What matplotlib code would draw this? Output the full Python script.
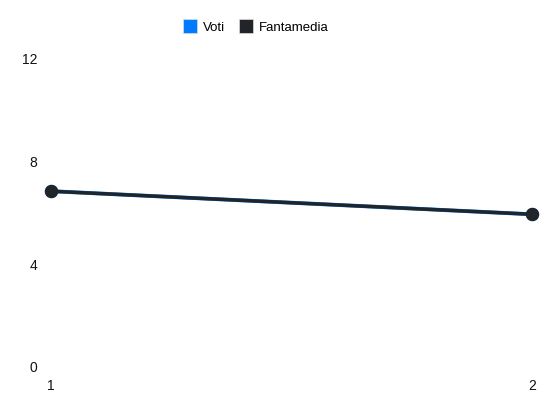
import matplotlib
matplotlib.use("Agg")
import matplotlib.pyplot as plt
from matplotlib.lines import Line2D

x_labels = ["1", "2"]
voti = [6.85, 5.95]
fantamedia = [6.85, 5.95]
y_ticks = [0, 4, 8, 12]

plt.rcParams['font.family'] = ['Liberation Sans', 'DejaVu Sans']

fig = plt.figure(figsize=(5.5, 4.12), dpi=100)
ax = fig.add_axes([51/550, 45/412, 481/550, 308/412])
xs = [1, 2]
ax.plot(xs, voti, color='#007bff', linewidth=2.8, marker='o', markersize=8.6, solid_capstyle='round', zorder=2, clip_on=False)
ax.plot(xs, fantamedia, color='#212529', linewidth=2.5, marker='o', markersize=8.6, solid_capstyle='round', zorder=3, clip_on=False)
ax.set_xlim(1, 2)
ax.set_ylim(0, 12)
ax.set_xticks(xs)
ax.set_xticklabels(x_labels)
ax.set_yticks(y_ticks)
for s in ax.spines.values():
    s.set_visible(False)
ax.tick_params(axis='both', length=0, labelsize=10, colors='#111111')
ax.tick_params(axis='y', pad=10)
ax.tick_params(axis='x', pad=9)

handles = [Line2D([], [], marker='s', linestyle='none', markersize=10, markerfacecolor='#007bff', markeredgecolor='#dddddd', markeredgewidth=0.5),
           Line2D([], [], marker='s', linestyle='none', markersize=10, markerfacecolor='#212529', markeredgecolor='#dddddd', markeredgewidth=0.5)]
fig.legend(handles, ['Voti', 'Fantamedia'], loc='center', bbox_to_anchor=(256/550, 1 - 28/412), ncol=2, frameon=False,
           fontsize=9.5, handletextpad=0.5, columnspacing=1.1, handlelength=1.0)
fig.savefig('out.png', dpi=100)
